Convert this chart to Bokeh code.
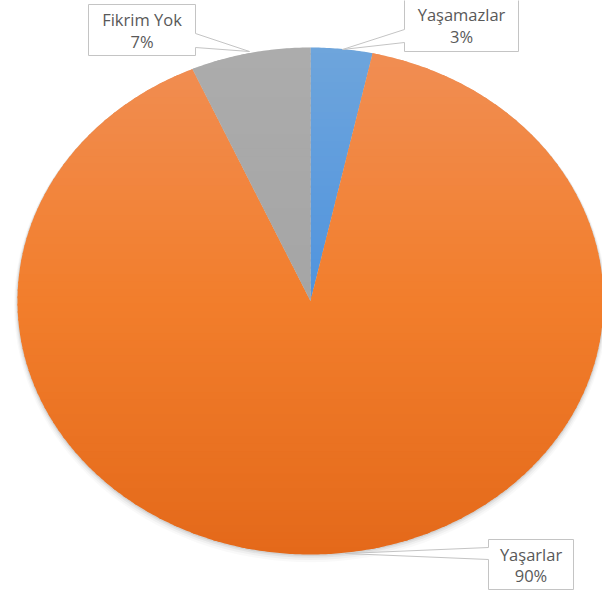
import numpy as np
from bokeh.plotting import figure
from bokeh.models import Range1d
from bokeh.embed import file_html
from bokeh.resources import INLINE
from bokeh.core.properties import value

# ---- data ----
categories = ["Yaşamazlar", "Yaşarlar", "Fikrim Yok"]
shares = [3.4, 90.0, 6.6]
pct_labels = ["3%", "90%", "7%"]

# ---- styles (gradient stops top / middle / bottom per slice) ----
slice_stops = [
    [(110, 165, 220), (80, 148, 222), (66, 130, 205)],
    [(241, 142, 84), (242, 126, 44), (228, 105, 26)],
    [(172, 172, 172), (165, 165, 165), (152, 152, 152)],
]

# callout boxes: left, top, right, bottom, pointer side, pointer y0, y1, tip x, tip y
callouts = [
    (404, -2, 518, 51, "left", 29, 42, 342, 49),
    (488, 539, 573, 589, "left", 547, 559, 345, 553),
    (88, 4, 195, 55, "right", 33, 47, 249, 51),
]

W, H = 602, 596
p = figure(width=W, height=H, x_range=Range1d(0, W), y_range=Range1d(H, 0),
           output_backend="svg", toolbar_location=None, min_border=0)
p.axis.visible = False
p.grid.visible = False
p.outline_line_color = None
p.background_fill_color = "white"
p.border_fill_color = "white"

CX, CY, RX, RY = 310.0, 300.5, 293.0, 253.5

# soft shadow
for k, a in [(7, 0.025), (5, 0.035), (3, 0.05), (1.5, 0.07)]:
    p.ellipse(x=[CX], y=[CY + k * 0.6], width=2 * RX + k, height=2 * RY + k,
              fill_color="black", fill_alpha=a, line_color=None)


def clip(poly, y0, y1):
    def clip_half(pts, keep, inter):
        out = []
        n = len(pts)
        for i in range(n):
            cur, prev = pts[i], pts[i - 1]
            ci, pi = keep(cur), keep(prev)
            if ci:
                if not pi:
                    out.append(inter(prev, cur))
                out.append(cur)
            elif pi:
                out.append(inter(prev, cur))
        return out

    def mk_inter(yl):
        def f(a, b):
            t = (yl - a[1]) / (b[1] - a[1])
            return (a[0] + t * (b[0] - a[0]), yl)
        return f

    pts = clip_half(poly, lambda q: q[1] >= y0, mk_inter(y0))
    if not pts:
        return []
    pts = clip_half(pts, lambda q: q[1] <= y1, mk_inter(y1))
    return pts


def grad(stops, t):
    if t < 0.5:
        a, b, u = stops[0], stops[1], t / 0.5
    else:
        a, b, u = stops[1], stops[2], (t - 0.5) / 0.5
    c = [int(round(a[i] + (b[i] - a[i]) * u)) for i in range(3)]
    return "#%02x%02x%02x" % tuple(c)


total = sum(shares)
cum = np.concatenate([[0], np.cumsum(shares)]) / total
edges = np.linspace(CY - RY - 1, CY + RY + 1, 70)
for i, cat in enumerate(categories):
    a0, a1 = cum[i] * 2 * np.pi, cum[i + 1] * 2 * np.pi
    n = max(6, int((a1 - a0) / (2 * np.pi) * 720))
    th = np.linspace(a0, a1, n)
    poly = [(CX, CY)] + [(CX + RX * np.sin(t), CY - RY * np.cos(t)) for t in th]
    xs, ys, cols = [], [], []
    for j in range(len(edges) - 1):
        y0, y1 = edges[j], edges[j + 1]
        part = clip(poly, y0 - 1.0, y1 + 1.0)
        if len(part) < 3:
            continue
        tmid = ((y0 + y1) / 2 - (CY - RY)) / (2 * RY)
        c = grad(slice_stops[i], min(max(tmid, 0), 1))
        xs.append([q[0] for q in part])
        ys.append([q[1] for q in part])
        cols.append(c)
    p.patches(xs, ys, fill_color=cols, line_color=None)

# callouts
bx, by = [], []
tx, ty1, ty2 = [], [], []
for (l, t, r, b, side, py0, py1, tipx, tipy) in callouts:
    if side == "left":
        pts = [(l, t), (r, t), (r, b), (l, b), (l, py1), (tipx, tipy), (l, py0)]
    else:
        pts = [(l, t), (r, t), (r, py0), (tipx, tipy), (r, py1), (r, b), (l, b)]
    bx.append([q[0] for q in pts])
    by.append([q[1] for q in pts])
    tx.append((l + r) / 2)
    mid = (max(t, -4) + b) / 2
    ty1.append(mid - 10.5)
    ty2.append(mid + 11)

p.patches(bx, by, fill_color="white", line_color="#c4c4c4", line_width=1)
p.text(x=tx, y=ty1, text=categories, text_align="center", text_baseline="middle",
       text_font=value("Open Sans"), text_font_size="16.5px", text_color="#595959")
p.text(x=tx, y=ty2, text=pct_labels, text_align="center", text_baseline="middle",
       text_font=value("Open Sans"), text_font_size="16.5px", text_color="#595959")

open("out.html", "w").write(file_html(p, INLINE))
